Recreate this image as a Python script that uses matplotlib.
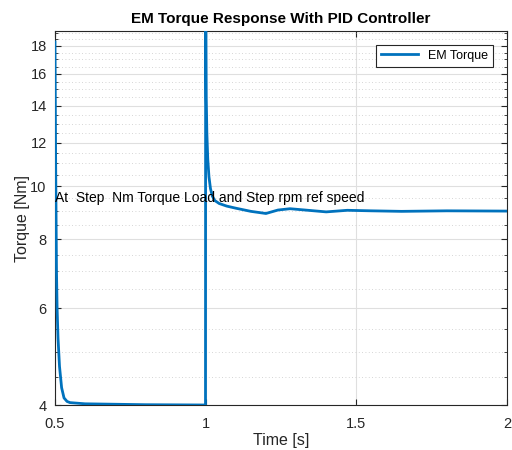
import numpy as np
import matplotlib
matplotlib.use("Agg")
import matplotlib.pyplot as plt
from matplotlib.ticker import FixedLocator, NullFormatter

plt.rcParams["font.family"] = ["Liberation Sans", "DejaVu Sans"]

# EM torque trace (log y axis)
time = [0.5, 0.502, 0.505, 0.507, 0.51, 0.515, 0.522, 0.53, 0.54, 0.55,
        0.6, 0.8, 0.9995, 1.0, 1.002, 1.004, 1.007, 1.011, 1.016, 1.022,
        1.03, 1.045, 1.07, 1.1, 1.15, 1.2, 1.24, 1.28, 1.33, 1.4, 1.47,
        1.55, 1.65, 1.8, 2.0]
torque = [18.3, 11.5, 7.0, 6.0, 5.3, 4.7, 4.3, 4.12, 4.06, 4.04,
          4.02, 4.005, 4.0, 25.0, 14.5, 12.5, 11.2, 10.4, 9.9, 9.6,
          9.42, 9.3, 9.2, 9.12, 9.0, 8.92, 9.05, 9.1, 9.05, 8.98, 9.04,
          9.02, 9.0, 9.02, 9.01]

xticks = [0.5, 1, 1.5, 2]
yticks = [4, 6, 8, 10, 12, 14, 16, 18]
yminor = [v for v in np.arange(4, 19.5, 0.5) if v not in yticks]

fig = plt.figure(figsize=(5.12, 4.5), dpi=100)
ax = fig.add_axes([0.1074, 0.1, 0.8828, 0.831])

ax.plot(time, torque, color="#0072BD", lw=2.0, label="EM Torque", zorder=3)
ax.set_yscale("log")
ax.set_xlim(0.5, 2)
ax.set_ylim(4, 19.15)

ax.set_xticks(xticks)
ax.set_xticklabels(["0.5", "1", "1.5", "2"])
ax.yaxis.set_major_locator(FixedLocator(yticks))
ax.yaxis.set_minor_locator(FixedLocator(yminor))
ax.set_yticklabels([str(v) for v in yticks])
ax.yaxis.set_minor_formatter(NullFormatter())

ax.grid(True, which="major", color="#dfdfdf", lw=0.8)
ax.grid(True, which="minor", axis="y", color="#c8c8c8", lw=0.6, ls=(0, (1, 3)))
ax.set_axisbelow(True)

ax.tick_params(which="both", direction="in", top=True, right=True,
               labelsize=10.5, colors="#262626")
ax.tick_params(axis="x", which="major", length=4, pad=9)
ax.tick_params(axis="y", which="major", length=4, pad=6)
ax.tick_params(which="minor", length=2.5)
for s in ax.spines.values():
    s.set_color("#262626")
    s.set_linewidth(0.8)

ax.text(0.5, 9.5, "At  Step  Nm Torque Load and Step rpm ref speed",
        fontsize=10, va="center", ha="left", color="black")

ax.set_title("EM Torque Response With PID Controller", fontsize=11,
             fontweight="bold", pad=6)
ax.set_xlabel("Time [s]", fontsize=11.5, color="#262626", labelpad=1)
ax.set_ylabel("Torque [Nm]", fontsize=11.5, color="#262626", labelpad=0)

leg = ax.legend(loc="upper right", fontsize=9, fancybox=False,
                framealpha=1, edgecolor="#262626", handlelength=3.0,
                borderaxespad=1.1)
leg.get_frame().set_linewidth(0.8)

fig.savefig("out.png", dpi=100)
